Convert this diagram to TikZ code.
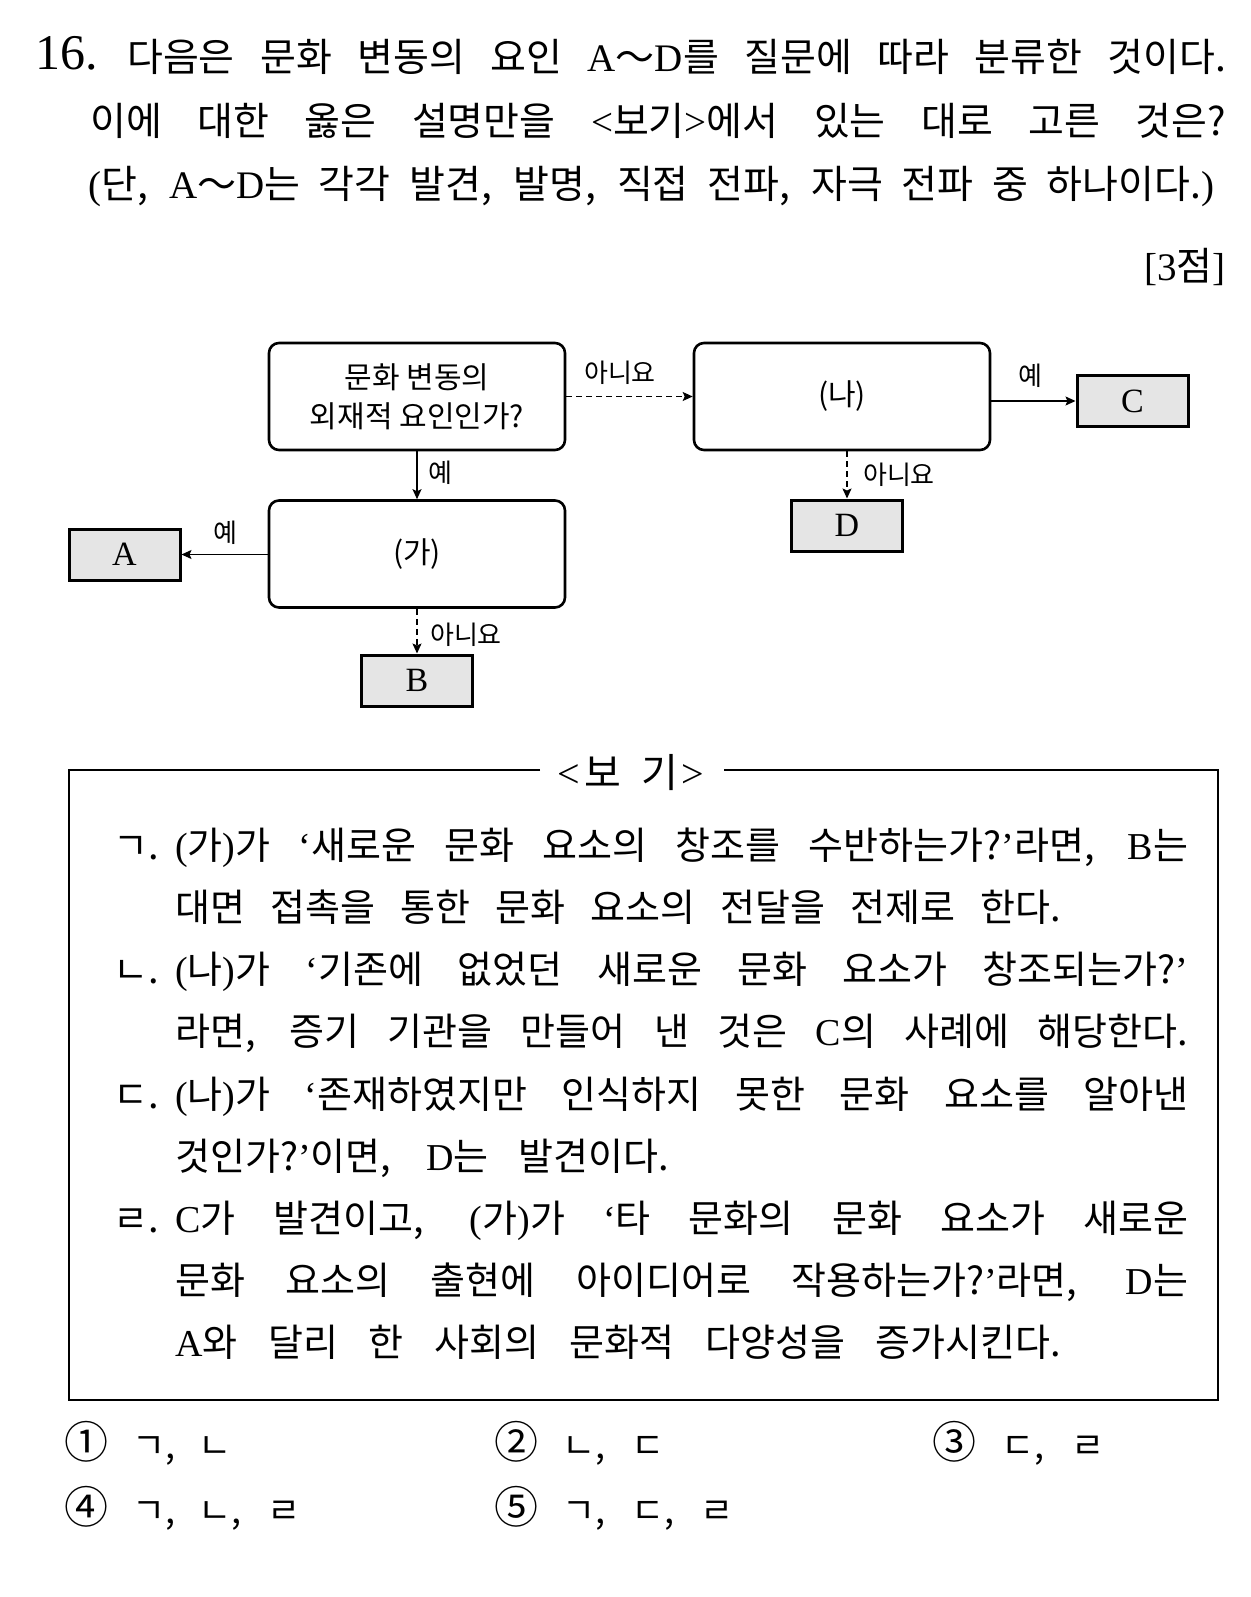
\documentclass[tikz,border=0pt]{standalone}
\usepackage{fontspec}
\setmainfont{Liberation Serif}
\newfontfamily\kfont{Noto Sans CJK KR}
\usetikzlibrary{arrows.meta}
\definecolor{boxgray}{gray}{0.9}
\newcommand\LL[1]{{\rmfamily #1}}
\newcommand\CN[1]{{\fontsize{44}{44}\selectfont #1}}
\begin{document}
\begin{tikzpicture}[x=1pt,y=-1pt,
  qbox/.style={draw, line width=2.6pt, rounded corners=10pt, minimum width=296pt, minimum height=107pt, inner sep=0pt, align=center, font=\kfont\fontsize{30}{39}\selectfont},
  abox/.style={draw, line width=3pt, fill=boxgray, minimum width=111pt, minimum height=51pt, inner sep=0pt, font=\rmfamily\fontsize{34}{40}\selectfont},
  yesarrow/.style={line width=1.4pt, -{Stealth[length=10pt,width=9pt,inset=2pt]}},
  noarrow/.style={yesarrow, dash pattern=on 6pt off 4pt},
  lbl/.style={inner sep=0pt, font=\kfont\fontsize{26}{30}\selectfont},
  ktxt/.style={anchor=base west, inner sep=0pt, font=\kfont\fontsize{38}{44}\selectfont},
  ttxt/.style={anchor=base west, inner sep=0pt, font=\kfont\fontsize{39}{44}\selectfont},
  chc/.style={anchor=base west, inner sep=0pt, font=\kfont\fontsize{36}{40}\selectfont},
  frame/.style={line width=1.8pt}
]
\fill[white] (0,0) rectangle (1250,1597);
\useasboundingbox (0,0) rectangle (1250,1597);

% question
\node[anchor=base west, inner sep=0pt, font=\rmfamily\fontsize{50}{60}\selectfont] (num) at (35,70) {16.};
\node[ttxt] (t1) at (127,72) {\makebox[1099pt][s]{다음은 문화 변동의 요인 \LL{A}～\LL{D}를 질문에 따라 분류한 것이다.}};
\node[ttxt] (t2) at (90,136) {\makebox[1136pt][s]{이에 대한 옳은 설명만을 \LL{<}보기\LL{>}에서 있는 대로 고른 것은?}};
\node[ttxt] (t3) at (88,199) {\makebox[1126pt][s]{\LL{(}단, \LL{A}～\LL{D}는 각각 발견, 발명, 직접 전파, 자극 전파 중 하나이다.\LL{)}}};
\node[anchor=base east, inner sep=0pt, font=\kfont\fontsize{39}{44}\selectfont] (pts) at (1226,280) {\LL{[3}점\LL{]}};

% diagram
\node[qbox] (q1) at (417,396.5) {문화 변동의\\외재적 요인인가?};
\node[qbox] (na) at (842,396.5) {(나)};
\node[qbox] (ga) at (417,554) {(가)};
\node[abox] (C) at (1132.5,401) {C};
\node[abox] (D) at (847,525.5) {D};
\node[abox] (A) at (124.5,554.5) {A};
\node[abox] (B) at (417,680.5) {B};

\draw[noarrow] (q1.east) -- (na.west);
\draw[yesarrow] (na.east |- C.west) -- (C.west);
\draw[yesarrow] (q1.south) -- (ga.north);
\draw[noarrow] (D.north |- na.south) -- (D.north);
\draw[yesarrow] (ga.west |- A.east) -- (A.east);
\draw[noarrow] (ga.south) -- (B.north);

\node[lbl] (l1) at (620,373) {아니요};
\node[lbl] (l2) at (440,473) {예};
\node[lbl] (l3) at (1030,376) {예};
\node[lbl] (l4) at (899,475) {아니요};
\node[lbl] (l5) at (225,533) {예};
\node[lbl] (l6) at (466,635) {아니요};

% bogi frame
\node[inner sep=0pt, font=\kfont\fontsize{40}{44}\selectfont] (bogi) at (631,773) {\LL{<}\hspace{4pt}보\hspace{20pt}기\hspace{4pt}\LL{>}};
\coordinate (fl) at (540,770);
\coordinate (fr) at (724,770);
\draw[frame] (fl) -| (69,1400) -| (1218,770) -- (fr);

\node[ktxt] (k1) at (113,859) {ㄱ.};
\node[ktxt] (k2) at (113,983) {ㄴ.};
\node[ktxt] (k3) at (113,1108) {ㄷ.};
\node[ktxt] (k4) at (113,1232) {ㄹ.};

\node[ktxt] (s1) at (175,859) {\makebox[1013pt][s]{\LL{(}가\LL{)}가 \LL{‘}새로운 문화 요소의 창조를 수반하는가?\LL{’}라면, \LL{B}는}};
\node[ktxt] (s2) at (175,921) {\makebox[886pt][s]{대면 접촉을 통한 문화 요소의 전달을 전제로 한다.}};
\node[ktxt] (s3) at (175,983) {\makebox[1013pt][s]{\LL{(}나\LL{)}가 \LL{‘}기존에 없었던 새로운 문화 요소가 창조되는가?\LL{’}}};
\node[ktxt] (s4) at (175,1045) {\makebox[1013pt][s]{라면, 증기 기관을 만들어 낸 것은 \LL{C}의 사례에 해당한다.}};
\node[ktxt] (s5) at (175,1108) {\makebox[1013pt][s]{\LL{(}나\LL{)}가 \LL{‘}존재하였지만 인식하지 못한 문화 요소를 알아낸}};
\node[ktxt] (s6) at (175,1170) {\makebox[494pt][s]{것인가?\LL{’}이면, \LL{D}는 발견이다.}};
\node[ktxt] (s7) at (175,1232) {\makebox[1013pt][s]{\LL{C}가 발견이고, \LL{(}가\LL{)}가 \LL{‘}타 문화의 문화 요소가 새로운}};
\node[ktxt] (s8) at (175,1294) {\makebox[1013pt][s]{문화 요소의 출현에 아이디어로 작용하는가?\LL{’}라면, \LL{D}는}};
\node[ktxt] (s9) at (175,1356) {\makebox[886pt][s]{\LL{A}와 달리 한 사회의 문화적 다양성을 증가시킨다.}};

% choices
\node[chc] (c1) at (64,1458) {\makebox[68pt][l]{\CN{①}}\makebox[66pt][l]{ㄱ,}ㄴ};
\node[chc] (c2) at (494,1458) {\makebox[68pt][l]{\CN{②}}\makebox[69pt][l]{ㄴ,}ㄷ};
\node[chc] (c3) at (932,1458) {\makebox[69pt][l]{\CN{③}}\makebox[70pt][l]{ㄷ,}ㄹ};
\node[chc] (c4) at (64,1523) {\makebox[68pt][l]{\CN{④}}\makebox[66pt][l]{ㄱ,}\makebox[69pt][l]{ㄴ,}ㄹ};
\node[chc] (c5) at (494,1523) {\makebox[68pt][l]{\CN{⑤}}\makebox[69pt][l]{ㄱ,}\makebox[69pt][l]{ㄷ,}ㄹ};
\end{tikzpicture}
\end{document}
